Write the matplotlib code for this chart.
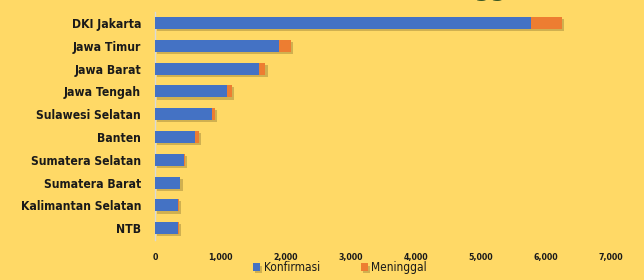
import matplotlib.pyplot as plt
import matplotlib.patheffects as pe
from matplotlib.ticker import FuncFormatter

provinsi = ["DKI Jakarta", "Jawa Timur", "Jawa Barat", "Jawa Tengah", "Sulawesi Selatan",
            "Banten", "Sumatera Selatan", "Sumatera Barat", "Kalimantan Selatan", "NTB"]
konfirmasi = [5770, 1910, 1600, 1100, 875, 620, 450, 385, 355, 360]
meninggal = [480, 180, 95, 78, 42, 55, 8, 6, 10, 5]

bg = "#FFD966"
biru = "#4472C4"
oranye = "#ED7D31"

fig = plt.figure(figsize=(6.44, 2.8), dpi=100, facecolor=bg)
ax = fig.add_axes([0.2407, 0.1443, 0.7081, 0.8143], facecolor=bg)

y = list(range(len(provinsi)))
shadow = [pe.SimplePatchShadow(offset=(1.5, -1.5), shadow_rgbFace="#8a7430", alpha=0.4), pe.Normal()]
b1 = ax.barh(y, konfirmasi, height=0.53, color=biru, label="Konfirmasi", path_effects=shadow, zorder=3)
b2 = ax.barh(y, meninggal, left=konfirmasi, height=0.53, color=oranye, label="Meninggal",
             path_effects=shadow, zorder=3)

ax.set_xlim(0, 7000)
ax.set_ylim(len(provinsi) - 0.5, -0.5)
ax.set_yticks(y)
ax.set_yticklabels(provinsi, fontsize=8.7, fontweight="bold", fontstretch="condensed",
                   color="#1a1a1a")
ax.set_xticks(range(0, 7001, 1000))
ax.xaxis.set_major_formatter(FuncFormatter(lambda v, p: f"{int(v):,}"))
for t in ax.get_xticklabels():
    t.set_fontsize(6.3)
    t.set_fontweight("bold")
    t.set_fontstretch("condensed")
    t.set_color("#1a1a1a")
ax.tick_params(axis="both", length=0)
ax.tick_params(axis="x", pad=10)
ax.tick_params(axis="y", pad=10)
for s in ["top", "right", "bottom"]:
    ax.spines[s].set_visible(False)
ax.spines["left"].set_color("#d9d9d9")
ax.spines["left"].set_linewidth(1)

leg = fig.legend(handles=[b1, b2], loc="center", bbox_to_anchor=(0.528, 0.043), ncol=2,
                 frameon=False, handlelength=0.6, handleheight=0.6, handletextpad=0.3,
                 columnspacing=3.4, prop={"size": 8.6, "stretch": "condensed"})
for t in leg.get_texts():
    t.set_color("#1a1a1a")

# judul yang terpotong di atas
fig.text(0.80, 1.012, "Tertinggi", ha="right", va="baseline", fontsize=16, fontweight="bold",
         color="#375623")

fig.savefig("out.png", dpi=100, facecolor=bg)
